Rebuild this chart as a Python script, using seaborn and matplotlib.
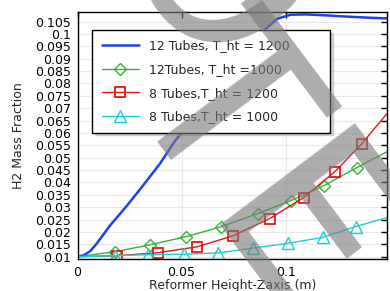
import matplotlib
matplotlib.use("Agg")
import matplotlib.pyplot as plt
import matplotlib.ticker as mticker
import seaborn as sns

# 12 tubes, T_ht = 1200 (plain line)
x_12_1200 = [0, 0.003, 0.006, 0.0092, 0.0155, 0.0237, 0.0314, 0.0396, 0.0469,
             0.058, 0.068, 0.078, 0.0855, 0.0894, 0.0961, 0.1024, 0.11, 0.12, 0.13, 0.14, 0.1487]
y_12_1200 = [0.01, 0.0106, 0.0122, 0.0153, 0.0225, 0.0306, 0.0387, 0.0476, 0.0569,
             0.068, 0.0785, 0.089, 0.0965, 0.1013, 0.1062, 0.1078, 0.1079, 0.1075, 0.107, 0.1066, 0.1063]

# 12 tubes, T_ht = 1000 (diamonds)
x_12_1000 = [0, 0.0179, 0.0348, 0.0522, 0.0691, 0.0865, 0.1024, 0.1184, 0.1343, 0.1487]
y_12_1000 = [0.01, 0.012, 0.0148, 0.0181, 0.0221, 0.0274, 0.0326, 0.0387, 0.046, 0.0524]

# 8 tubes, T_ht = 1200 (squares)
x_8_1200 = [0, 0.0188, 0.0386, 0.0575, 0.0749, 0.0923, 0.1087, 0.1237, 0.1367, 0.1487]
y_8_1200 = [0.01, 0.0104, 0.0116, 0.014, 0.0185, 0.0254, 0.0339, 0.0444, 0.0557, 0.0678]

# 8 tubes, T_ht = 1000 (triangles)
x_8_1000 = [0, 0.0179, 0.0338, 0.0512, 0.0676, 0.0845, 0.101, 0.1179, 0.1338, 0.1487]
y_8_1000 = [0.01, 0.0104, 0.0108, 0.011, 0.0115, 0.0135, 0.0154, 0.0178, 0.0222, 0.0258]

labels = ["12 Tubes, T_ht = 1200", "12Tubes, T_ht =1000",
          "8 Tubes,T_ht = 1200", "8 Tubes,T_ht = 1000"]

y_ticks = [0.01 + 0.005 * i for i in range(20)]
x_ticks = [0, 0.05, 0.1]

sns.set_style("whitegrid")
plt.rcParams["font.family"] = ["DejaVu Sans"]

fig = plt.figure(figsize=(3.9, 2.91), dpi=100)
ax = fig.add_axes([0.199, 0.11, 0.793, 0.848])

sns.lineplot(x=x_12_1200, y=y_12_1200, ax=ax, color="#1f3ff5", lw=1.8,
             label=labels[0], sort=False)
sns.lineplot(x=x_12_1000, y=y_12_1000, ax=ax, color="#33b533", lw=1.0,
             marker="D", markersize=6, markerfacecolor="none", markeredgecolor="#33b533",
             markeredgewidth=1.0, markevery=slice(1, -1), label=labels[1], sort=False)
sns.lineplot(x=x_8_1200, y=y_8_1200, ax=ax, color="#e01818", lw=1.0,
             marker="s", markersize=7.5, markerfacecolor="none", markeredgecolor="#e01818",
             markeredgewidth=1.3, markevery=slice(1, -1), label=labels[2], sort=False)
sns.lineplot(x=x_8_1000, y=y_8_1000, ax=ax, color="#1ccfd2", lw=1.0,
             marker="^", markersize=8, markerfacecolor="none", markeredgecolor="#1ccfd2",
             markeredgewidth=1.0, markevery=slice(1, -1), label=labels[3], sort=False)

ax.set_xlim(0, 0.1487)
ax.set_ylim(0.00907, 0.1088)
ax.set_xticks(x_ticks)
ax.set_yticks(y_ticks)
ax.xaxis.set_major_formatter(mticker.FuncFormatter(lambda v, p: "%g" % round(v, 4)))
ax.yaxis.set_major_formatter(mticker.FuncFormatter(lambda v, p: "%g" % round(v, 4)))
ax.tick_params(direction="in", length=4, width=1, top=True, right=True,
               labelsize=9, colors="black")
ax.tick_params(axis="y", pad=5)
ax.tick_params(axis="x", pad=5)
ax.grid(True, color="#e8e8e8", lw=0.8)
for s in ax.spines.values():
    s.set_color("black")
    s.set_linewidth(1.0)

ax.set_xlabel("Reformer Height-Zaxis (m)", fontsize=9, labelpad=0)
ax.set_ylabel("H2 Mass Fraction", fontsize=9, labelpad=7)

leg = ax.legend(loc="upper left", bbox_to_anchor=(0.047, 0.5, 0.77, 0.428), mode="expand",
                borderaxespad=0, fontsize=9, frameon=True, fancybox=False,
                edgecolor="black", shadow={"color": "0.7"}, framealpha=1,
                handlelength=3.0, handletextpad=0.8, labelspacing=0.85, borderpad=0.75)
leg.get_frame().set_linewidth(1.0)

# grey watermark letters lying over the whole picture
wm = dict(fontsize=167, color="#7a7a7a", alpha=0.62, rotation=-53,
          rotation_mode="anchor", zorder=20)
fig.text(0.310, 0.679, "TE", ha="left", va="baseline", **wm)
fig.text(0.526, 1.068, "O", ha="center", va="center", **wm)

fig.savefig("out.png", dpi=100)
